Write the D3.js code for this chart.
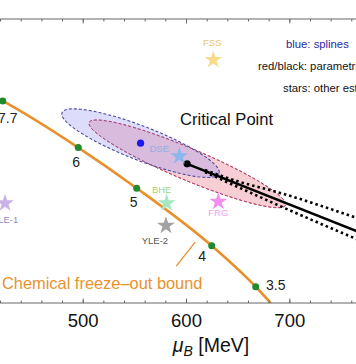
<!DOCTYPE html>
<html><head><meta charset="utf-8">
<script src="https://cdn.jsdelivr.net/npm/d3@7"></script>
<style>
html,body{margin:0;padding:0;background:#fff;}
svg{display:block;font-family:"Liberation Sans",Arial,sans-serif;}
</style></head>
<body><div id="chart"></div>
<script>
// ---- data (muB in MeV, T in MeV) ----
const xTicksMajor = [500, 600, 700];
const xTicksMinor = [420,440,460,480,500,520,540,560,580,600,620,640,660,680,700,720,740,760];
const freezeLabels = ["7.7", "6", "5", "4", "3.5"];
const freezeMu = [422.6, 495.7, 552.3, 624.9, 667.5];
const freezeT = [139.8, 128.3, 118.3, 104.1, 94.0];
const freezeLineMu = [405, 422.6, 495.7, 552.3, 624.9, 667.5, 682];
const freezeLineT = [142.2, 139.8, 128.3, 118.3, 104.1, 94.0, 90.0];
const pointerMu = [590.5, 608.9];
const pointerT = [99.1, 105.0];
// ellipses: center, semi-axis A, semi-axis B (data units)
const blueEllipse = {c: [556.0, 129.4], a: [76.0, -7.5], b: [-5.9, -3.9]};
const redEllipse = {c: [601.3, 124.3], a: [95.0, -10.2], b: [-6.0, -3.6]};
const bluePoint = [556.0, 129.4];
const critLineMu = [601.1, 775];
const critLineT = [124.3, 106.7];
const bandUpperMu = [618.4, 652.3, 687.1, 775];
const bandUpperT = [122.76, 119.83, 117.43, 110.1];
const bandLowerMu = [618.4, 652.3, 687.1, 775];
const bandLowerT = [122.27, 118.35, 114.35, 104.7];
const starNames = ["FSS", "DSE", "BHE", "FRG", "YLE-2", "YLE-1"];
const starMu = [626.4, 593.5, 581.3, 631.3, 580.6, 424.8];
const starT = [149.9, 126.2, 114.6, 115.0, 109.05, 114.6];
const starColors = ["#f8dc8c", "#8cb6ee", "#a4e8c2", "#f28ef0", "#a2a2a2", "#c8b2e8"];
const starLabelColors = ["#e9c66a", "#8fb0e2", "#a6d27a", "#f0a2ee", "#555555", "#9a88ba"];
const legendLines = ["blue: splines", "red/black: parametrization", "stars: other estimates"];

const W = 356, H = 364;
const x = d3.scaleLinear().domain([500, 700]).range([82.7, 289.3]);
const y = d3.scaleLinear().domain([90, 160]).range([303, 19]);

const svg = d3.select("#chart").append("svg").attr("width", W).attr("height", H);
svg.append("defs").append("clipPath").attr("id","plot")
  .append("rect").attr("x",0).attr("y",y(160)).attr("width",W).attr("height",y(90)-y(160));
const plot = svg.append("g").attr("clip-path","url(#plot)");

// ellipses
function ellipsePts(e){
  const pts=[];
  for(let i=0;i<120;i++){
    const t=i/120*2*Math.PI;
    pts.push([e.c[0]+Math.cos(t)*e.a[0]+Math.sin(t)*e.b[0], e.c[1]+Math.cos(t)*e.a[1]+Math.sin(t)*e.b[1]]);
  }
  return pts;
}
const eLine = d3.line().x(d=>x(d[0])).y(d=>y(d[1])).curve(d3.curveLinearClosed);
plot.append("path").attr("d", eLine(ellipsePts(redEllipse)))
  .attr("fill","rgb(236,120,138)").attr("fill-opacity",0.36)
  .attr("stroke","#c8405a").attr("stroke-width",1).attr("stroke-dasharray","3 2");
plot.append("path").attr("d", eLine(ellipsePts(blueEllipse)))
  .attr("fill","rgb(150,145,238)").attr("fill-opacity",0.32)
  .attr("stroke","#4a4aa0").attr("stroke-width",1.1).attr("stroke-dasharray","3 2");
plot.append("path").attr("d", eLine(ellipsePts(redEllipse)))
  .attr("fill","none")
  .attr("stroke","#a03a70").attr("stroke-width",1).attr("stroke-dasharray","3 2").attr("stroke-opacity",0.7);

// critical line + band
const ln = d3.line().x(d=>x(d[0])).y(d=>y(d[1]));
const lnC = d3.line().x(d=>x(d[0])).y(d=>y(d[1])).curve(d3.curveMonotoneX);
plot.append("path").attr("d", lnC(bandUpperMu.map((m,i)=>[m,bandUpperT[i]])))
  .attr("fill","none").attr("stroke","#000").attr("stroke-width",2.6).attr("stroke-dasharray","2.5 3");
plot.append("path").attr("d", lnC(bandLowerMu.map((m,i)=>[m,bandLowerT[i]])))
  .attr("fill","none").attr("stroke","#000").attr("stroke-width",2.6).attr("stroke-dasharray","2.5 3");
plot.append("path").attr("d", ln(critLineMu.map((m,i)=>[m,critLineT[i]])))
  .attr("fill","none").attr("stroke","#000").attr("stroke-width",2.6);
plot.append("circle").attr("cx",x(critLineMu[0])).attr("cy",y(critLineT[0])).attr("r",3.6).attr("fill","#000");
plot.append("circle").attr("cx",x(bluePoint[0])).attr("cy",y(bluePoint[1])).attr("r",3.6).attr("fill","#1a1aee");

// freeze-out line
plot.append("path").attr("d", lnC(freezeLineMu.map((m,i)=>[m,freezeLineT[i]])))
  .attr("fill","none").attr("stroke","#e8902c").attr("stroke-width",2.6);
plot.append("path").attr("d", ln(pointerMu.map((m,i)=>[m,pointerT[i]])))
  .attr("fill","none").attr("stroke","#e8902c").attr("stroke-width",1.3);
plot.selectAll("circle.fo").data(freezeMu).join("circle").attr("class","fo")
  .attr("cx",d=>x(d)).attr("cy",(d,i)=>y(freezeT[i])).attr("r",3.5).attr("fill","#1f8a2e");
const flOff = [[5,17],[-2,14],[-3,14],[-9.5,10],[20,-2]];
svg.selectAll("text.fl").data(freezeLabels).join("text").attr("class","fl")
  .attr("x",(d,i)=>x(freezeMu[i])+flOff[i][0]).attr("y",(d,i)=>y(freezeT[i])+flOff[i][1])
  .attr("text-anchor","middle").attr("dominant-baseline","central")
  .attr("font-size",14).attr("fill","#222").text(d=>d);

// stars
const star = d3.symbol().type(d3.symbolStar).size(100);
plot.selectAll("path.star").data(starNames).join("path").attr("class","star")
  .attr("transform",(d,i)=>`translate(${x(starMu[i])},${y(starT[i])})`)
  .attr("d",star).attr("fill",(d,i)=>starColors[i]);
const slOff = [[-1,-17],[-20,-7.5],[-5,-13.5],[0,11],[-11,14.5],[0,16]];
svg.selectAll("text.sl").data(starNames).join("text").attr("class","sl")
  .attr("x",(d,i)=>x(starMu[i])+slOff[i][0]).attr("y",(d,i)=>y(starT[i])+slOff[i][1])
  .attr("text-anchor","middle").attr("dominant-baseline","central")
  .attr("font-size",9.5).attr("fill",(d,i)=>starLabelColors[i]).text(d=>d);

// texts
svg.append("text").attr("x",180).attr("y",125).attr("font-size",16.6).attr("fill","#111").text("Critical Point");
svg.append("text").attr("x",2).attr("y",289).attr("font-size",16.4).attr("fill","#e8922e").text("Chemical freeze\u2013out bound");
const legX = [286, 258, 283], legY = [48, 70, 92], legC = ["#2a2aa8", "#111", "#111"];
svg.selectAll("text.leg").data(legendLines).join("text").attr("class","leg")
  .attr("x",(d,i)=>legX[i]).attr("y",(d,i)=>legY[i]).attr("font-size",11.3)
  .attr("fill",(d,i)=>legC[i]).text(d=>d);

// axes
const axisCol = "#666";
[y(90), y(160)].forEach(yy=>{
  svg.append("line").attr("x1",0).attr("x2",W).attr("y1",yy).attr("y2",yy).attr("stroke",axisCol).attr("stroke-width",1.2);
});
const gBottom = svg.append("g").attr("transform",`translate(0,${y(90)})`)
  .call(d3.axisBottom(x).tickValues(xTicksMinor).tickSizeInner(-2.5).tickSizeOuter(0).tickFormat(""));
gBottom.select(".domain").remove();
gBottom.selectAll("line").attr("stroke",axisCol);
const gBottomMaj = svg.append("g").attr("transform",`translate(0,${y(90)})`)
  .call(d3.axisBottom(x).tickValues(xTicksMajor).tickSizeInner(-4.5).tickSizeOuter(0).tickPadding(10.6).tickFormat(d3.format("d")));
gBottomMaj.select(".domain").remove();
gBottomMaj.selectAll("line").attr("stroke",axisCol);
gBottomMaj.selectAll("text").attr("font-size",18.5).attr("fill","#111").attr("font-family","Liberation Sans, Arial, sans-serif");
const gTop = svg.append("g").attr("transform",`translate(0,${y(160)})`)
  .call(d3.axisTop(x).tickValues(xTicksMinor).tickSizeInner(-2.5).tickSizeOuter(0).tickFormat(""));
gTop.select(".domain").remove();
gTop.selectAll("line").attr("stroke",axisCol);
const gTopMaj = svg.append("g").attr("transform",`translate(0,${y(160)})`)
  .call(d3.axisTop(x).tickValues(xTicksMajor).tickSizeInner(-4.5).tickSizeOuter(0).tickFormat(""));
gTopMaj.select(".domain").remove();
gTopMaj.selectAll("line").attr("stroke",axisCol);

// axis title
const title = svg.append("text").attr("x",211).attr("y",352).attr("text-anchor","middle")
  .attr("font-size",19.5).attr("fill","#111");
title.append("tspan").attr("font-style","italic").text("\u03bc");
title.append("tspan").attr("font-style","italic").attr("font-size",14).attr("dy",4).text("B");
title.append("tspan").attr("dy",-4).text(" [MeV]");
</script></body></html>
